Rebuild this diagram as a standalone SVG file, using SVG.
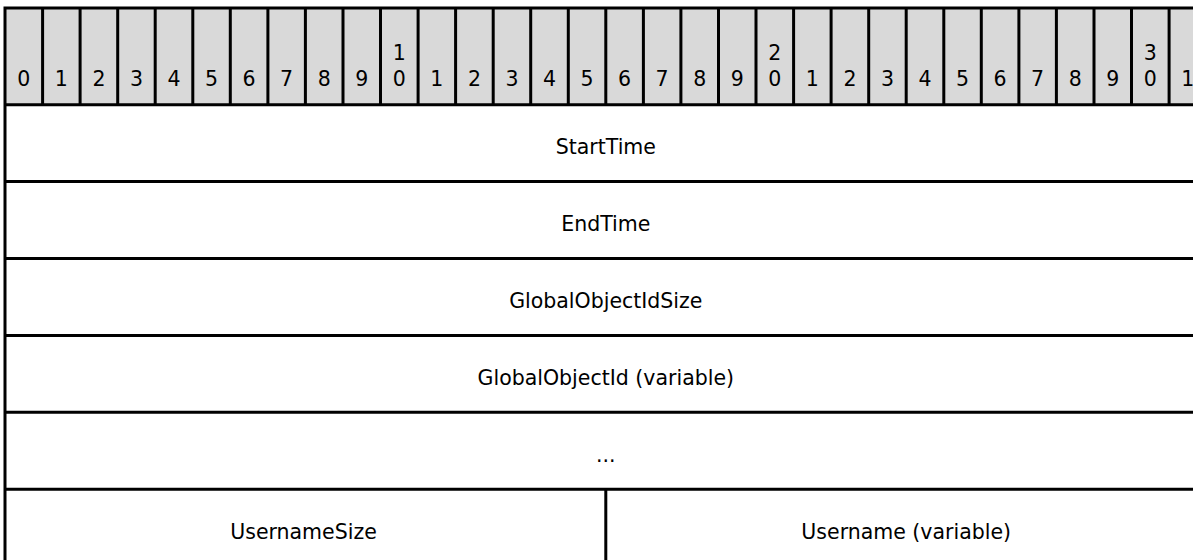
<svg xmlns="http://www.w3.org/2000/svg" width="1193" height="560" viewBox="0 0 1193 560">
<style>
.t{font-family:"DejaVu Sans",Verdana,sans-serif;font-size:20.5px;fill:#000;text-anchor:middle}
.ln{stroke:#000;stroke-width:3;fill:none}
.hd{fill:#d9d9d9}
</style>
<rect width="1193" height="560" fill="#fff"/>
<g id="header">
<rect class="hd" x="5" y="8" width="1202" height="96.7"/>
<text class="t" x="23.8" y="86">0</text>
<text class="t" x="61.3" y="86">1</text>
<text class="t" x="98.9" y="86">2</text>
<text class="t" x="136.4" y="86">3</text>
<text class="t" x="174" y="86">4</text>
<text class="t" x="211.5" y="86">5</text>
<text class="t" x="249.1" y="86">6</text>
<text class="t" x="286.6" y="86">7</text>
<text class="t" x="324.2" y="86">8</text>
<text class="t" x="361.7" y="86">9</text>
<text class="t" x="399.3" y="59.5">1</text><text class="t" x="399.3" y="86">0</text>
<text class="t" x="436.8" y="86">1</text>
<text class="t" x="474.4" y="86">2</text>
<text class="t" x="511.9" y="86">3</text>
<text class="t" x="549.5" y="86">4</text>
<text class="t" x="587" y="86">5</text>
<text class="t" x="624.6" y="86">6</text>
<text class="t" x="662.1" y="86">7</text>
<text class="t" x="699.7" y="86">8</text>
<text class="t" x="737.2" y="86">9</text>
<text class="t" x="774.8" y="59.5">2</text><text class="t" x="774.8" y="86">0</text>
<text class="t" x="812.3" y="86">1</text>
<text class="t" x="849.9" y="86">2</text>
<text class="t" x="887.4" y="86">3</text>
<text class="t" x="925" y="86">4</text>
<text class="t" x="962.5" y="86">5</text>
<text class="t" x="1000.1" y="86">6</text>
<text class="t" x="1037.6" y="86">7</text>
<text class="t" x="1075.2" y="86">8</text>
<text class="t" x="1112.7" y="86">9</text>
<text class="t" x="1150.3" y="59.5">3</text><text class="t" x="1150.3" y="86">0</text>
<text class="t" x="1187.8" y="86">1</text>
<path class="ln" d="M42.6 8V104.7M80.1 8V104.7M117.7 8V104.7M155.2 8V104.7M192.8 8V104.7M230.3 8V104.7M267.9 8V104.7M305.4 8V104.7M343 8V104.7M380.5 8V104.7M418.1 8V104.7M455.6 8V104.7M493.2 8V104.7M530.7 8V104.7M568.3 8V104.7M605.8 8V104.7M643.4 8V104.7M680.9 8V104.7M718.5 8V104.7M756 8V104.7M793.6 8V104.7M831.1 8V104.7M868.7 8V104.7M906.2 8V104.7M943.8 8V104.7M981.3 8V104.7M1018.9 8V104.7M1056.4 8V104.7M1094 8V104.7M1131.5 8V104.7M1169.1 8V104.7"/>
</g>
<g id="starttime"><text class="t" x="605.8" y="154">StartTime</text></g>
<g id="endtime"><text class="t" x="605.8" y="231">EndTime</text></g>
<g id="globalobjectidsize"><text class="t" x="605.8" y="308">GlobalObjectIdSize</text></g>
<g id="globalobjectid"><text class="t" x="605.8" y="385">GlobalObjectId (variable)</text></g>
<g id="ellipsis"><text class="t" x="605.8" y="462">...</text></g>
<g id="usernamesize"><text class="t" x="303.5" y="539">UsernameSize</text></g>
<g id="username"><text class="t" x="906.2" y="539">Username (variable)</text></g>
<g id="connectors">
<path class="ln" d="M5 8H1193M5 104.7H1193M5 181.6H1193M5 258.5H1193M5 335.4H1193M5 412.3H1193M5 489.2H1193M5 6.5V560M605.8 489.2V560"/>
</g>
</svg>
